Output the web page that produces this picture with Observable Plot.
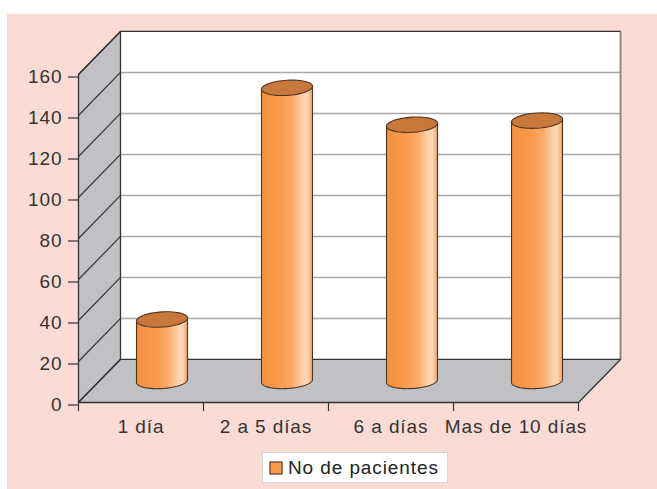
<!DOCTYPE html>
<html>
<head>
<meta charset="utf-8">
<script src="https://cdn.jsdelivr.net/npm/d3@7"></script>
<script src="https://cdn.jsdelivr.net/npm/@observablehq/plot@0.6"></script>
<style>
  html, body { margin: 0; padding: 0; background: #fff; overflow: hidden; width: 657px; height: 489px; }
  #panel { position: absolute; left: 7px; top: 14px; width: 650px; height: 475px; background: #fbdcd5; }
  #chart { position: absolute; left: 0; top: 0; }
  #chart text { font-family: 'Liberation Sans', Arial, Helvetica, sans-serif; font-size: 19px; letter-spacing: 0.9px; font-variant: normal; }
  #legend {
    position: absolute; left: 262px; top: 452px; width: 186px; height: 31px;
    box-sizing: border-box; background: #fff; border: 1px solid #d4d4d4;
    display: flex; align-items: center; padding-left: 7px;
  }
  #legend .leg-swatches { margin: 0 !important; }
  #legend .leg-swatch { margin: 0 !important; display: inline-flex; align-items: center; }
  #legend .leg-swatch > svg { margin-right: 6px !important; overflow: visible; }
  #legend .leg-swatch rect { stroke: #5a3a22; stroke-width: 1.2; }
</style>
</head>
<body>
<div id="panel"></div>
<div id="chart"></div>
<div id="legend"></div>
<script>
// Hospital stay vs. number of patients
const categories = ["1 día", "2 a 5 días", "6 a días", "Mas de 10 días"];
const pacientes = [30, 143, 125, 127];
const yTicks = [0, 20, 40, 60, 80, 100, 120, 140, 160];
const seriesName = "No de pacientes";

const orange = "#f99a4c";
const capColor = "#c8783a";
const wallGrey = "#c0c1c4";
const ink = "#333";
const font = "'Liberation Sans', Arial, Helvetica, sans-serif";

// Oblique depth of the 3-D box, in data units (x: category widths, y: value units)
const DX = 0.336, DY = 21;
const YMAX = yTicks[yTicks.length - 1];
const N = categories.length;

// Cylinder geometry in data units
const RX = 0.204, RY = 3.7, TILT = 3.5, SEG = 60;

const rows = categories.map((cat, i) => ({cat, value: pacientes[i], i}));

// Walls and floor as closed polygons
const sideWall = [
  {x: 0, y: 0}, {x: 0, y: YMAX}, {x: DX, y: YMAX + DY}, {x: DX, y: DY}, {x: 0, y: 0}
];
const floor = [
  {x: 0, y: 0}, {x: N, y: 0}, {x: N + DX, y: DY}, {x: DX, y: DY}, {x: 0, y: 0}
];
const backWall = [
  {x: DX, y: DY}, {x: N + DX, y: DY}, {x: N + DX, y: YMAX + DY}, {x: DX, y: YMAX + DY}, {x: DX, y: DY}
];
const backInner = yTicks.filter(v => v > 0 && v < YMAX);

// Cylinder bodies and caps
function ellipse(cx, cy, t0, t1) {
  const pts = [];
  for (let k = 0; k <= SEG; k++) {
    const t = t0 + (t1 - t0) * k / SEG;
    pts.push({x: cx + RX * Math.cos(t), y: cy + RY * Math.sin(t) + TILT * RX * Math.cos(t)});
  }
  return pts;
}
const bodies = rows.flatMap(r => {
  const cx = r.i + 0.5 + DX / 2, y0 = DY / 2, y1 = r.value + DY / 2;
  const pts = [{x: cx - RX, y: y1 - TILT * RX}]
    .concat(ellipse(cx, y0, Math.PI, 2 * Math.PI))
    .concat([{x: cx + RX, y: y1 + TILT * RX}, {x: cx - RX, y: y1 - TILT * RX}]);
  return pts.map(p => ({...p, cat: r.cat}));
});
const caps = rows.flatMap(r => {
  const cx = r.i + 0.5 + DX / 2, y1 = r.value + DY / 2;
  return ellipse(cx, y1, 0, 2 * Math.PI).map(p => ({...p, cat: r.cat}));
});

const chart = Plot.plot({
  width: 657,
  height: 445,
  marginLeft: 78,
  marginRight: 79,
  marginTop: 74,
  marginBottom: 43,
  x: {domain: [0, N]},
  y: {domain: [0, YMAX]},
  style: {background: "none", overflow: "visible", fontFamily: font, fontSize: "19px", color: ink},
  marks: [
    // back wall
    Plot.line(backWall, {x: "x", y: "y", fill: "#fff", stroke: "none"}),
    Plot.link(backInner, {x1: DX, x2: N + DX, y1: d => d + DY, y2: d => d + DY, stroke: "#a9a9a9", strokeWidth: 1.4}),
    Plot.link([0], {x1: N + DX, x2: N + DX, y1: DY, y2: YMAX + DY, stroke: "#8a8a8a", strokeWidth: 2}),
    Plot.link([0], {x1: DX, x2: N + DX, y1: YMAX + DY, y2: YMAX + DY, stroke: ink, strokeWidth: 1.3}),
    // side wall
    Plot.line(sideWall, {x: "x", y: "y", fill: wallGrey, stroke: ink, strokeWidth: 1.3}),
    Plot.link(yTicks, {x1: 0, x2: DX, y1: d => d, y2: d => d + DY, stroke: ink, strokeWidth: 1.2}),
    // floor
    Plot.line(floor, {x: "x", y: "y", fill: wallGrey, stroke: ink, strokeWidth: 1.3}),
    // cylinders
    Plot.line(bodies, {x: "x", y: "y", z: "cat", fill: "url(#cylShade)", stroke: "#4e3420", strokeWidth: 1.1}),
    Plot.line(caps, {x: "x", y: "y", z: "cat", fill: capColor, stroke: "#4e3420", strokeWidth: 1.1}),
    // axes
    Plot.axisY({ticks: yTicks, tickSize: 10, tickPadding: 6, dy: 2.5, label: null, fontSize: 19,
      stroke: ink, fill: ink, strokeWidth: 1.2}),
    Plot.axisX({ticks: d3.range(N + 1), tickSize: 9, tickFormat: () => "", label: null, stroke: ink, strokeWidth: 1.2}),
    Plot.axisX({ticks: categories.map((c, i) => i + 0.5), tickSize: 0, tickPadding: 17, fontSize: 19,
      tickFormat: d => categories[Math.floor(d)], label: null, fill: ink})
  ]
});

// horizontal shading for the cylinder bodies
const defs = d3.select(chart).insert("defs", ":first-child");
const grad = defs.append("linearGradient").attr("id", "cylShade").attr("x1", 0).attr("x2", 1).attr("y1", 0).attr("y2", 0);
[[0, "#f2903c"], [0.4, "#fa9b4e"], [0.62, "#fbab68"], [0.8, "#fdcfa6"], [0.9, "#fdd6b4"], [1, "#eea268"]]
  .forEach(([o, c]) => grad.append("stop").attr("offset", o).attr("stop-color", c));

document.getElementById("chart").appendChild(chart);

const legend = Plot.legend({
  legend: "swatches",
  color: {domain: [seriesName], range: [orange]},
  swatchSize: 12,
  className: "leg",
  style: {fontFamily: font, fontSize: "19px", color: "#222", letterSpacing: "0.9px"}
});
document.getElementById("legend").appendChild(legend);
</script>
</body>
</html>
